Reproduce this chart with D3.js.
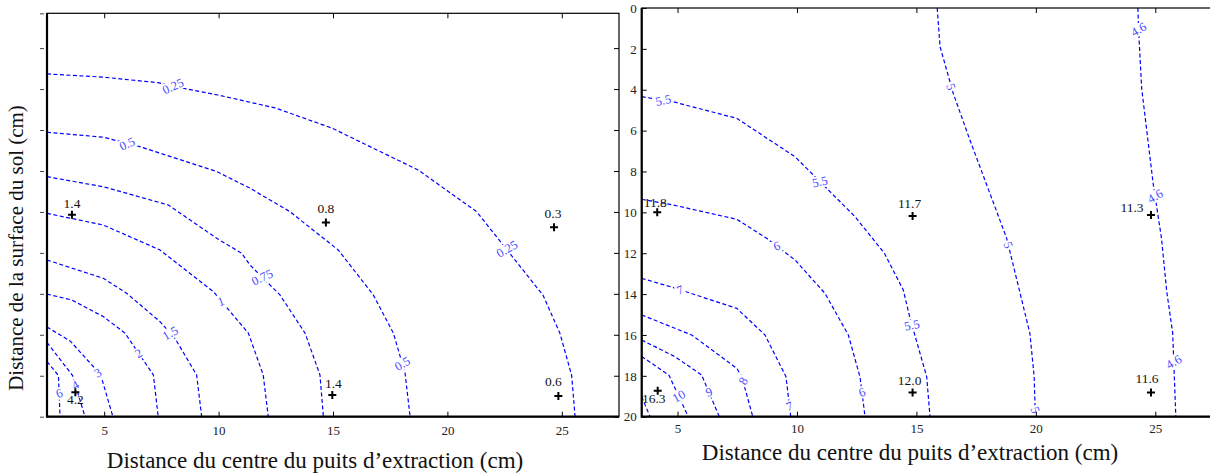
<!DOCTYPE html>
<html><head><meta charset="utf-8">
<script src="https://cdn.jsdelivr.net/npm/d3@7"></script>
<style>
body{margin:0;background:#fff}
svg{display:block}
text{font-family:"Liberation Serif","DejaVu Serif",serif}
</style>
</head><body>
<script>
// ---------------- DATA ----------------
const xTicks = [5, 10, 15, 20, 25];
const leftYTicks = [2, 4, 6, 8, 10, 12, 14, 16, 18, 20];
const rightYTicks = [0, 2, 4, 6, 8, 10, 12, 14, 16, 18, 20];

const xTitle = "Distance du centre du puits d\u2019extraction (cm)";
const yTitle = "Distance de la surface du sol (cm)";

// Left panel contour levels and lines (x cm, depth cm)
const leftLevels = ["0.25", "0.5", "0.75", "1", "1.5", "2", "3", "4", "6"];
const leftContours = [
  [[2.5,3.26],[4.99,3.42],[7.35,3.69],[8.66,4.01],[9.97,4.29],[12.47,4.92],[14.94,5.90],[18.72,7.95],[21.28,9.99],[24.18,14.07],[24.92,15.93],[25.43,17.98],[25.58,20]],
  [[2.5,6.11],[4.96,6.35],[6.56,6.81],[9.92,8.03],[11.37,8.84],[13.12,9.99],[15.23,11.86],[16.76,14.05],[17.64,15.92],[18.15,17.88],[18.37,20]],
  [[2.5,8.28],[4.96,8.77],[7.80,9.66],[9.92,11.29],[11.01,12.02],[11.37,12.59],[12.32,13.65],[12.68,14.05],[13.78,15.92],[14.43,17.96],[14.58,20]],
  [[2.5,10.07],[4.96,10.64],[7.44,11.86],[9.77,13.89],[11.30,15.92],[11.95,17.96],[12.17,20]],
  [[2.5,12.35],[4.96,13.24],[5.98,13.97],[7.44,15.36],[8.09,16.17],[9.04,17.96],[9.26,20]],
  [[2.5,14.01],[3.58,14.3],[4.96,15.11],[5.91,15.92],[7.15,17.96],[7.36,20]],
  [[2.5,15.62],[3.52,16.31],[4.70,17.77],[4.86,18.01],[5.38,20]],
  [[2.5,16.38],[3.62,17.99],[4.16,20]],
  [[2.5,17.31],[3.0,17.99],[3.07,20]]
];
const leftLabelLevel = [0, 0, 1, 1, 2, 3, 4, 5, 6, 7, 8];
const leftLabelX = [8.0, 22.6, 6.0, 18.03, 11.9, 10.1, 7.88, 6.5, 4.72, 3.74, 3.03];
const leftLabelY = [3.85, 11.8, 6.66, 17.4, 13.18, 14.36, 15.91, 16.9, 17.85, 18.45, 18.85];

// Left panel measurement points
const leftPointX = [3.59, 14.69, 24.66, 14.97, 24.85, 3.74];
const leftPointY = [10.14, 10.52, 10.75, 18.94, 18.99, 18.81];
const leftPointLabel = ["1.4", "0.8", "0.3", "1.4", "0.6", "4.2"];

// Right panel contour levels and lines
const rightLevels = ["4.6", "5", "5.5", "6", "7", "8", "9", "10", null];
const rightContours = [
  [[24.27,0],[24.32,1.48],[24.43,3.93],[24.91,8.58],[25.26,11.27],[25.48,13.88],[25.73,15.92],[25.86,20]],
  [[15.87,0],[15.99,1.89],[16.54,4.17],[17.24,6.46],[18.78,11.27],[19.75,15.92],[19.93,18.04],[19.98,20]],
  [[3.5,4.34],[4.82,4.59],[7.48,5.40],[9.92,7.28],[11.24,8.82],[12.43,10.21],[13.66,12.0],[14.45,13.80],[14.73,15.17],[15.43,18.04],[15.57,20]],
  [[3.5,9.36],[4.82,9.64],[7.48,10.34],[8.73,11.27],[9.92,12.33],[11.17,13.96],[12.15,16.0],[12.64,18.06],[12.85,20]],
  [[3.5,13.23],[4.82,13.68],[7.48,14.70],[8.66,16.0],[9.54,18.04],[9.74,20]],
  [[3.5,15.02],[5.59,16.0],[7.48,17.63],[7.69,18.04],[8.15,20]],
  [[3.5,16.25],[4.89,17.06],[6.01,17.96],[6.75,20]],
  [[3.5,17.05],[4.64,17.97],[5.45,20]],
  [[3.5,19.02],[3.85,20]]
];
const rightLabelLevel = [2, 2, 2, 3, 3, 4, 4, 5, 6, 7, 1, 1, 1, 0, 0, 0];
const rightLabelX = [4.4, 10.96, 14.81, 9.15, 12.72, 5.1, 9.69, 7.74, 6.31, 5.05, 16.46, 18.85, 19.98, 24.3, 24.99, 25.77];
const rightLabelY = [4.51, 8.49, 15.51, 11.64, 18.79, 13.79, 19.48, 18.24, 18.78, 18.99, 3.85, 11.6, 19.67, 1.04, 9.2, 17.31];

// Right panel measurement points
const rightPointX = [4.15, 14.84, 24.82, 14.84, 24.82, 4.17];
const rightPointY = [10.0, 10.18, 10.13, 18.81, 18.81, 18.73];
const rightPointLabel = ["11.8", "11.7", "11.3", "12.0", "11.6", "16.3"];

// ---------------- LAYOUT / STYLE ----------------
const leftLabelAngle = [-24, -30, -24, -30, -25, -20, -30, -30, -30, -30, -20];
const rightLabelAngle = [-12, -12, -12, -20, -20, -20, -20, -60, -20, -30, 70, 70, 70, -30, -30, -30];
const leftPtDx = [0, 0, -1, 1, -5, 0];
const leftPtDy = [-12, -14, -14, -12, -15, 7];
const rightPtDx = [-2, -3, -19, -3, -4, -4];
const rightPtDy = [-10, -13, -8, -12, -14, 8];

const W = 1210, H = 473;
const LINE = "#0000ff", LABEL = "#4a4aff";

const svg = d3.select("body").append("svg").attr("width", W).attr("height", H);

const xL = d3.scaleLinear([2.5, 27.5], [47, 619]);
const yL = d3.scaleLinear([0.3, 20], [13.3, 416.7]);
const xR = d3.scaleLinear([3.5, 27.5], [641.7, 1215]);
const yR = d3.scaleLinear([0, 20], [8, 416.7]);

function panel(id, x, y, contours, levels, lblLevel, lblX, lblY, lblAng, ptX, ptY, ptLbl, ptDx, ptDy) {
  const [x0, x1] = x.range(), [y0, y1] = y.range();
  const g = svg.append("g");
  g.append("clipPath").attr("id", id).append("rect")
    .attr("x", x0).attr("y", y0).attr("width", x1 - x0).attr("height", y1 - y0);
  const body = g.append("g").attr("clip-path", `url(#${id})`);
  const line = d3.line().x(d => x(d[0])).y(d => y(d[1]));
  body.selectAll("path.c").data(contours).join("path")
    .attr("d", line).attr("fill", "none").attr("stroke", LINE)
    .attr("stroke-width", 1.2).attr("stroke-dasharray", "4,2.5");
  // contour labels
  lblLevel.forEach((li, i) => {
    const grp = body.append("g")
      .attr("transform", `translate(${x(lblX[i])},${y(lblY[i])}) rotate(${lblAng[i]})`);
    const r = grp.append("rect").attr("fill", "#fff");
    const t = grp.append("text").attr("text-anchor", "middle").attr("dy", "0.35em")
      .attr("font-size", 12.5).attr("fill", LABEL).text(levels[li]);
    const bb = t.node().getBBox();
    r.attr("x", bb.x - 1.5).attr("y", bb.y + 1).attr("width", bb.width + 3).attr("height", bb.height - 2);
  });
  // points
  const pts = ptX.map((v, i) => ({ x: v, y: ptY[i], l: ptLbl[i], dx: ptDx[i], dy: ptDy[i] }));
  const pg = g.selectAll("g.pt").data(pts).join("g")
    .attr("transform", d => `translate(${x(d.x)},${y(d.y)})`);
  pg.append("path").attr("d", "M-4,0H4M0,-4V4").attr("stroke", "#000").attr("stroke-width", 2);
  pg.append("text").attr("x", d => d.dx).attr("y", d => d.dy).attr("dy", "0.35em")
    .attr("text-anchor", "middle").attr("font-size", 13.5).attr("fill", "#111").text(d => d.l);
  return g;
}

// Left panel
const gl = panel("clipL", xL, yL, leftContours, leftLevels, leftLabelLevel, leftLabelX, leftLabelY,
  leftLabelAngle, leftPointX, leftPointY, leftPointLabel, leftPtDx, leftPtDy);
gl.append("g").attr("transform", `translate(0,${yL.range()[1]})`)
  .call(d3.axisBottom(xL).tickValues(xTicks).tickSizeInner(-5).tickSizeOuter(0).tickPadding(9))
  .call(a => { a.select(".domain").remove(); a.selectAll("text").attr("font-size", 13).attr("font-family", "Liberation Serif").attr("fill", "#222"); });
gl.append("g").attr("transform", `translate(0,${yL.range()[0]})`)
  .call(d3.axisTop(xL).tickValues(xTicks).tickSizeInner(-5).tickSizeOuter(0).tickFormat(""))
  .call(a => a.select(".domain").remove());
gl.append("g").attr("transform", `translate(${xL.range()[1]},0)`)
  .call(d3.axisRight(yL).tickValues(leftYTicks).tickSizeInner(-5).tickSizeOuter(0).tickFormat(""))
  .call(a => a.select(".domain").remove());
gl.append("g").attr("transform", `translate(44,0)`)
  .call(d3.axisLeft(yL).tickValues(leftYTicks.concat([0.3])).tickSizeInner(4).tickSizeOuter(0).tickFormat(""))
  .call(a => { a.select(".domain").remove(); a.selectAll("line").attr("stroke", "#444"); });
gl.append("rect").attr("x", xL.range()[0]).attr("y", yL.range()[0])
  .attr("width", xL.range()[1] - xL.range()[0]).attr("height", yL.range()[1] - yL.range()[0])
  .attr("fill", "none").attr("stroke", "#000").attr("stroke-width", 1.2);
gl.append("path").attr("d", `M${xL.range()[0]},${yL.range()[0]}V${yL.range()[1]}H${xL.range()[1]}`)
  .attr("fill", "none").attr("stroke", "#000").attr("stroke-width", 2.2);

// Right panel
const gr = panel("clipR", xR, yR, rightContours, rightLevels, rightLabelLevel, rightLabelX, rightLabelY,
  rightLabelAngle, rightPointX, rightPointY, rightPointLabel, rightPtDx, rightPtDy);
gr.append("g").attr("transform", `translate(0,${yR.range()[1]})`)
  .call(d3.axisBottom(xR).tickValues(xTicks).tickSizeInner(-5).tickSizeOuter(0).tickPadding(7))
  .call(a => { a.select(".domain").remove(); a.selectAll("text").attr("font-size", 13).attr("font-family", "Liberation Serif").attr("fill", "#222"); });
gr.append("g").attr("transform", `translate(0,${yR.range()[0]})`)
  .call(d3.axisTop(xR).tickValues(xTicks).tickSizeInner(-5).tickSizeOuter(0).tickFormat(""))
  .call(a => a.select(".domain").remove());
gr.append("g").attr("transform", `translate(${xR.range()[0]},0)`)
  .call(d3.axisLeft(yR).tickValues(rightYTicks).tickSizeInner(-5).tickSizeOuter(0).tickPadding(5))
  .call(a => { a.select(".domain").remove(); a.selectAll("text").attr("font-size", 13).attr("font-family", "Liberation Serif").attr("fill", "#222"); });
gr.append("g").attr("transform", `translate(${xR.range()[1]},0)`)
  .call(d3.axisRight(yR).tickValues(rightYTicks).tickSizeInner(-5).tickSizeOuter(0).tickFormat(""))
  .call(a => a.select(".domain").remove());
gr.append("rect").attr("x", xR.range()[0]).attr("y", yR.range()[0])
  .attr("width", xR.range()[1] - xR.range()[0]).attr("height", yR.range()[1] - yR.range()[0])
  .attr("fill", "none").attr("stroke", "#000").attr("stroke-width", 1.2);
gr.append("path").attr("d", `M${xR.range()[0]},${yR.range()[0]}V${yR.range()[1]}H${xR.range()[1]}`)
  .attr("fill", "none").attr("stroke", "#000").attr("stroke-width", 2.2);

// Titles
svg.append("text").attr("x", 315).attr("y", 468).attr("text-anchor", "middle")
  .attr("font-size", 23).attr("fill", "#111").text(xTitle);
svg.append("text").attr("x", 910).attr("y", 460).attr("text-anchor", "middle")
  .attr("font-size", 23).attr("fill", "#111").text(xTitle);
svg.append("text").attr("transform", "translate(23,248) rotate(-90)").attr("text-anchor", "middle")
  .attr("font-size", 21).attr("fill", "#111").text(yTitle);
</script>
</body></html>
